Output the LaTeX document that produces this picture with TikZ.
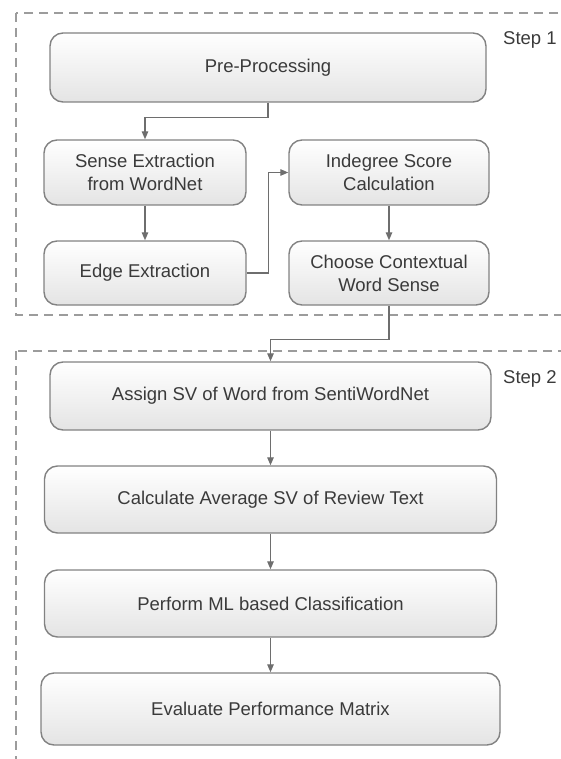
\documentclass[tikz,border=0pt]{standalone}
\usepackage{fontspec}
\setmainfont{Liberation Sans}
\usetikzlibrary{arrows.meta}
\definecolor{boxline}{HTML}{828282}
\definecolor{arrline}{HTML}{6E6E6E}
\definecolor{dashline}{HTML}{9C9C9C}
\definecolor{txt}{HTML}{3A3A3A}
\definecolor{boxbot}{HTML}{E4E4E4}
\begin{document}
\begin{tikzpicture}[x=1pt,y=-1pt,
  stepbox/.style={draw=boxline, line width=1.4pt, rounded corners=13pt,
    top color=white, bottom color=boxbot, text=txt, align=center,
    font=\fontsize{18.5}{23}\selectfont, inner sep=0pt},
  arr/.style={draw=arrline, line width=1.3pt, -{Triangle[length=8pt,width=6.5pt]}},
  group/.style={draw=dashline, line width=1.4pt, dash pattern=on 9pt off 6pt},
  steplabel/.style={anchor=west, text=txt, font=\fontsize{18.5}{22}\selectfont, inner sep=0pt}]
\useasboundingbox (0,0) rectangle (561,759);
\begin{scope}
\clip (0,0) rectangle (561,759);
\draw[group] (16,13) rectangle (600,315);
\draw[group] (16,351) rectangle (600,800);
\end{scope}
\node[steplabel] (s1) at (503,40) {Step 1};
\node[steplabel] (s2) at (503,379) {Step 2};
\node[stepbox, minimum width=436pt, minimum height=69pt] (pre) at (268,67.5) {Pre-Processing};
\node[stepbox, minimum width=202pt, minimum height=65pt] (sense) at (145,172.5) {Sense Extraction\\from WordNet};
\node[stepbox, minimum width=200pt, minimum height=65pt] (ind) at (389,172.5) {Indegree Score\\Calculation};
\node[stepbox, minimum width=202pt, minimum height=64pt] (edge) at (145,273) {Edge Extraction};
\node[stepbox, minimum width=200pt, minimum height=64pt] (choose) at (389,273) {Choose Contextual\\Word Sense};
\node[stepbox, minimum width=441pt, minimum height=68pt] (assign) at (270.5,396) {Assign SV of Word from SentiWordNet};
\node[stepbox, minimum width=452pt, minimum height=67pt] (calc) at (270.5,499.5) {Calculate Average SV of Review Text};
\node[stepbox, minimum width=452pt, minimum height=67pt] (perf) at (270.5,603.5) {Perform ML based Classification};
\node[stepbox, minimum width=459pt, minimum height=72pt] (eval) at (270.5,709) {Evaluate Performance Matrix};
\draw[arr] (pre.south) -- ++(0,15) -| (sense.north);
\draw[arr] (sense.south) -- (edge.north);
\draw[arr] (edge.east) -- ++(22,0) |- (ind.west);
\draw[arr] (ind.south) -- (choose.north);
\draw[arr] (choose.south) -- ++(0,34) -| (assign.north);
\draw[arr] (assign.south) -- (calc.north);
\draw[arr] (calc.south) -- (perf.north);
\draw[arr] (perf.south) -- (eval.north);
\end{tikzpicture}
\end{document}
